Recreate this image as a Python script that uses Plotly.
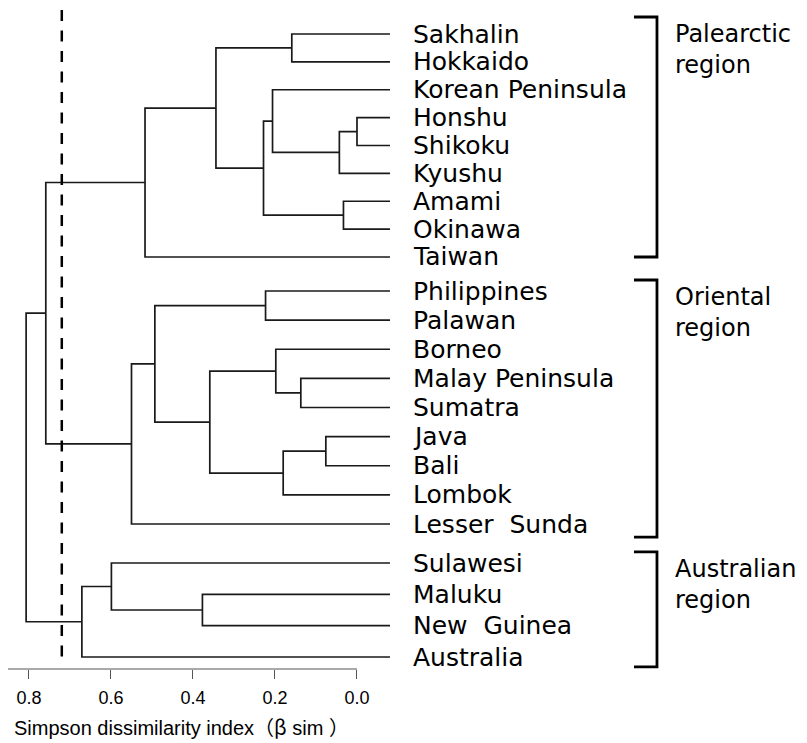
import plotly.graph_objects as go

# ---------------- data ----------------
leaves = ["Sakhalin", "Hokkaido", "Korean Peninsula", "Honshu", "Shikoku", "Kyushu",
          "Amami", "Okinawa", "Taiwan",
          "Philippines", "Palawan", "Borneo", "Malay Peninsula", "Sumatra", "Java",
          "Bali", "Lombok", "Lesser  Sunda",
          "Sulawesi", "Maluku", "New  Guinea", "Australia"]
leaf_group = [0] * 9 + [1] * 9 + [2] * 4
regions = ["Palearctic", "Oriental", "Australian"]

# agglomeration steps (left child, right child, Simpson dissimilarity of the merge)
merge_left = ["Honshu", "m0", "Korean Peninsula", "Amami", "m2", "Sakhalin", "m5", "m6",
              "Philippines", "Malay Peninsula", "Borneo", "Java", "m11", "m10", "m8", "m14",
              "m7", "Maluku", "Sulawesi", "m18", "m16"]
merge_right = ["Shikoku", "Kyushu", "m1", "Okinawa", "m3", "Hokkaido", "m4", "Taiwan",
               "Palawan", "Sumatra", "m9", "Bali", "Lombok", "m12", "m13", "Lesser  Sunda",
               "m15", "New  Guinea", "m17", "Australia", "m19"]
merge_height = [0.000, 0.043, 0.206, 0.033, 0.228, 0.159, 0.344, 0.517,
                0.223, 0.137, 0.198, 0.076, 0.180, 0.359, 0.493, 0.550,
                0.759, 0.377, 0.599, 0.671, 0.807]

tick_vals = [0.8, 0.6, 0.4, 0.2, 0.0]
tick_text = ["0.8", "0.6", "0.4", "0.2", "0.0"]
cut_height = 0.72

# ---------------- layout constants ----------------
GROUP_START = [0.182, 8.983, 18.298]
GROUP_STEP = [0.9545, 0.9974, 1.073]
LEAF_END = -0.0805
LABEL_X = -0.1313
BR_X0, BR_X1 = -0.6756, -0.7317
REGION_X = -0.7700
PAD_TOP = [0.582, 0.377, 0.378]
PAD_BOT = [0.0, 0.45, 0.34]
FONT_LAB = "DejaVu Sans"
FONT_AX = "Liberation Sans, Arial, sans-serif"
CJK = "font-family:Noto Sans CJK SC"

pos, count = {}, {}
for n, g in zip(leaves, leaf_group):
    j = count.get(g, 0)
    pos[n] = GROUP_START[g] + j * GROUP_STEP[g]
    count[g] = j + 1
hgt = {n: LEAF_END for n in leaves}

xs, ys = [], []
for k, (a, b, h) in enumerate(zip(merge_left, merge_right, merge_height)):
    xs += [hgt[a], h, h, hgt[b], None]
    ys += [pos[a], pos[a], pos[b], pos[b], None]
    pos[f"m{k}"] = (pos[a] + pos[b]) / 2
    hgt[f"m{k}"] = h

fig = go.Figure()
fig.add_trace(go.Scatter(x=xs, y=ys, mode="lines",
                         line=dict(color="#1a1a1a", width=1.7),
                         hoverinfo="skip", showlegend=False, cliponaxis=False))

annotations = []
for n in leaves:
    annotations.append(dict(x=LABEL_X, y=pos[n], xref="x", yref="y",
                            text=n.replace("  ", "\u00a0 "), showarrow=False,
                            xanchor="left", yanchor="middle",
                            font=dict(family=FONT_LAB, size=25, color="black")))

shapes = []
for g, r in enumerate(regions):
    members = [n for n, lg in zip(leaves, leaf_group) if lg == g]
    top = pos[members[0]] - PAD_TOP[g]
    bot = pos[members[-1]] + PAD_BOT[g]
    shapes.append(dict(type="path", xref="x", yref="y",
                       path=f"M {BR_X0},{top} L {BR_X1},{top} L {BR_X1},{bot} L {BR_X0},{bot}",
                       line=dict(color="black", width=2.8)))
    annotations.append(dict(x=REGION_X, y=top + 0.05, xref="x", yref="y",
                            text=f"{r}<br>region",
                            showarrow=False, xanchor="left", yanchor="top", align="left",
                            font=dict(family=FONT_LAB, size=24, color="black")))

# axis line (only under the scale) and cut line
shapes.append(dict(type="line", xref="x", yref="paper", x0=0.8512, x1=0.0, y0=0, y1=0,
                   line=dict(color="#555555", width=1.2)))
shapes.append(dict(type="line", xref="x", yref="paper", x0=cut_height, x1=cut_height,
                   y0=1.0, y1=0.0137, line=dict(color="black", width=2.5, dash="11px,9.5px")))

title_text = (f'Simpson dissimilarity index<span style="{CJK}">（β</span>'
              f'<span style="font-size:20px">\u00a0sim\u00a0</span><span style="{CJK}">）</span>')
annotations.append(dict(x=0.8415, y=-0.0865, xref="x", yref="paper",
                        text=title_text,
                        showarrow=False, xanchor="left", yanchor="middle",
                        font=dict(family=FONT_AX, size=20, color="black")))

# the page body adds an 8px offset, so the figure is 8px smaller on each axis
fig.update_layout(
    width=799, height=735, autosize=False,
    margin=dict(l=0, r=0, t=2, b=74),
    paper_bgcolor="white", plot_bgcolor="white",
    shapes=shapes, annotations=annotations,
    xaxis=dict(range=[0.8512, -1.0976], tickvals=tick_vals, ticktext=tick_text,
               ticks="outside", ticklen=9, tickwidth=1.2, tickcolor="#555555",
               ticklabelstandoff=3,
               showline=False, showgrid=False, zeroline=False,
               tickfont=dict(family=FONT_AX, size=18, color="black"), automargin=False),
    yaxis=dict(range=[21.928, -0.640], visible=False, showgrid=False, zeroline=False),
)

fig.write_html("out.html")
